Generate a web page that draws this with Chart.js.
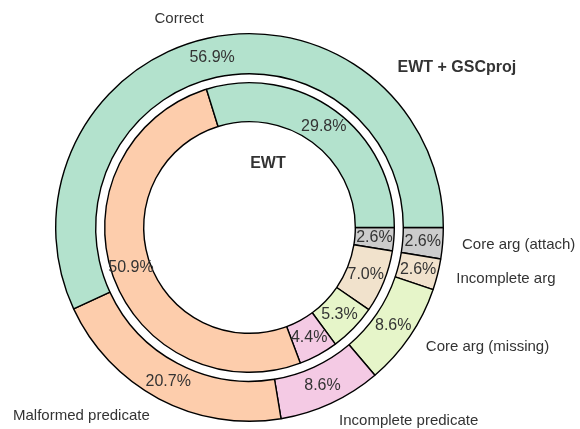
<!DOCTYPE html>
<html>
<head>
<meta charset="utf-8">
<script src="https://cdn.jsdelivr.net/npm/chart.js@4"></script>
<style>
  html, body { margin: 0; padding: 0; background: #fff; }
  canvas { display: block; }
</style>
</head>
<body>
<canvas id="pieChart" width="580" height="429"></canvas>
<script>
// Error categories and shares (%) for the two systems
const categories = ['Correct', 'Malformed predicate', 'Incomplete predicate', 'Core arg (missing)', 'Incomplete arg', 'Core arg (attach)'];
const ewtGscproj = [56.9, 20.7, 8.6, 8.6, 2.6, 2.6];
const ewt = [29.8, 50.9, 4.4, 5.3, 7.0, 2.6];
const colors = ['#b3e2cd', '#fdcdac', '#f4cae4', '#e6f5c9', '#f1e2cc', '#cccccc'];

const FONT = '"Liberation Sans", Arial, sans-serif';
const TEXT = '#333333';

// matplotlib draws counter-clockwise from 3 o'clock, chart.js clockwise -> reverse
const rev = a => a.slice().reverse();

const ringText = {
    id: 'ringText',
    afterDatasetsDraw(chart) {
        const ctx = chart.ctx;
        ctx.save();
        ctx.fillStyle = TEXT;
        ctx.textBaseline = 'middle';

        // percentages in the middle of each ring
        ctx.font = '16px ' + FONT;
        ctx.textAlign = 'center';
        [0, 2].forEach(di => {
            const ds = chart.data.datasets[di];
            chart.getDatasetMeta(di).data.forEach((arc, i) => {
                const p = arc.getCenterPoint();
                ctx.fillText(ds.data[i].toFixed(1) + '%', p.x, p.y);
            });
        });

        // category labels outside the outer ring
        ctx.font = '15px ' + FONT;
        const outer = chart.getDatasetMeta(0).data;
        const labels = rev(categories);
        outer.forEach((arc, i) => {
            const a = (arc.startAngle + arc.endAngle) / 2;
            const r = arc.outerRadius * 1.1;
            const x = arc.x + Math.cos(a) * r;
            const y = arc.y + Math.sin(a) * r;
            ctx.textAlign = Math.cos(a) >= 0 ? 'left' : 'right';
            ctx.fillText(labels[i], x, y);
        });

        // ring titles
        const a0 = outer[0];
        const R = a0.outerRadius;
        ctx.font = 'bold 16px ' + FONT;
        ctx.textAlign = 'center';
        ctx.fillText('EWT + GSCproj', a0.x + R * 1.07, a0.y - R * 0.827);
        ctx.fillText('EWT', a0.x + R * 0.095, a0.y - R * 0.332);
        ctx.restore();
    }
};

new Chart(document.getElementById('pieChart'), {
    type: 'doughnut',
    data: {
        labels: rev(categories),
        datasets: [{
            label: 'EWT + GSCproj',
            data: rev(ewtGscproj),
            backgroundColor: rev(colors),
            borderColor: '#000',
            borderWidth: 1.4,
            weight: 40
        }, {
            // white gap between the rings
            label: 'gap',
            data: [1],
            backgroundColor: 'rgba(0,0,0,0)',
            borderWidth: 0,
            weight: 9
        }, {
            label: 'EWT',
            data: rev(ewt),
            backgroundColor: rev(colors),
            borderColor: '#000',
            borderWidth: 1.4,
            weight: 39
        }]
    },
    options: {
        responsive: false,
        animation: false,
        rotation: 90,
        cutout: '54.6%',
        layout: {
            padding: { left: 55, right: 136, top: 33, bottom: 7 }
        },
        plugins: {
            legend: { display: false },
            tooltip: { enabled: false }
        }
    },
    plugins: [ringText]
});
</script>
</body>
</html>
